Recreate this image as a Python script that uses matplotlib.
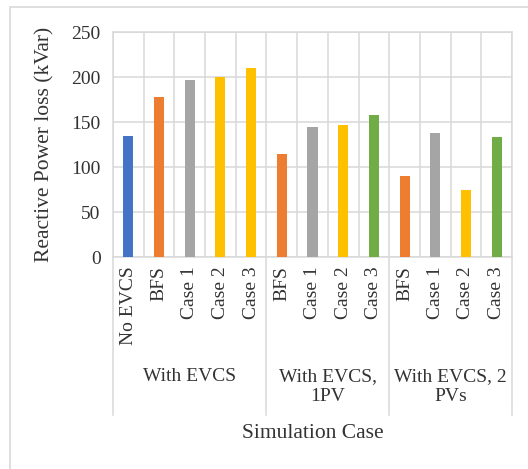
import numpy as np
import matplotlib.pyplot as plt
import matplotlib.transforms as mtransforms
from matplotlib.patches import Rectangle

plt.rcParams['font.family'] = ['Liberation Serif', 'DejaVu Serif']

# data per group
groups = ['With EVCS', 'With EVCS,\n1PV', 'With EVCS, 2\nPVs']
labels_g1 = ['No EVCS', 'BFS', 'Case 1', 'Case 2', 'Case 3']
labels_g2 = ['BFS', 'Case 1', 'Case 2', 'Case 3']
labels_g3 = ['BFS', 'Case 1', 'Case 2', 'Case 3']
values_g1 = [135, 178, 197, 200, 210]
values_g2 = [115, 144, 147, 158]
values_g3 = [90, 138, 75, 133]

blue, orange, grey, yellow, green = '#4472C4', '#ED7D31', '#A5A5A5', '#FFC000', '#70AD47'
colours_g1 = [blue, orange, grey, yellow, yellow]
colours_g2 = [orange, grey, yellow, green]
colours_g3 = [orange, grey, yellow, green]

W, H = 528, 469
fig = plt.figure(figsize=(W / 100, H / 100), dpi=100)

# light frame round the chart
fig.patches.append(Rectangle((10 / W, -0.1), 1.2, 1 - 7 / H + 0.1, transform=fig.transFigure,
                             fill=False, edgecolor='#D9D9D9', linewidth=1.2))

ax = fig.add_axes([113 / W, 1 - 257 / H, (512 - 113) / W, (257 - 32) / H])

labels = labels_g1 + labels_g2 + labels_g3
values = values_g1 + values_g2 + values_g3
colours = colours_g1 + colours_g2 + colours_g3
sizes = [len(labels_g1), len(labels_g2), len(labels_g3)]
x = np.arange(len(labels))

ax.bar(x, values, width=0.33, color=colours, zorder=3)

ax.set_xlim(-0.5, len(labels) - 0.5)
ax.set_ylim(0, 250)
ax.set_yticks(np.arange(0, 251, 50))
ax.tick_params(axis='y', length=0, pad=9, labelsize=14, labelcolor='#333333')
ax.set_xticks([])
ax.grid(axis='y', color='#D9D9D9', linewidth=1.1, zorder=0)
for b in np.arange(-0.5, len(labels), 1.0):
    ax.axvline(b, color='#D9D9D9', linewidth=1.1, zorder=0)
for s in ax.spines.values():
    s.set_color('#D9D9D9')
    s.set_linewidth(1.1)

trans = mtransforms.blended_transform_factory(ax.transData, ax.transAxes)
px = 1 / (257 - 32)

# rotated category names under each bar
for xi, lab in zip(x, labels):
    ax.text(xi, -9 * px, lab, rotation=90, ha='center', va='top', fontsize=14,
            color='#333333', transform=trans)

# group separators and group names
edges = np.concatenate([[0], np.cumsum(sizes)]) - 0.5
for e in edges:
    ax.plot([e, e], [0, -158 * px], color='#D9D9D9', linewidth=1.1,
            transform=trans, clip_on=False)
for i, g in enumerate(groups):
    mid = (edges[i] + edges[i + 1]) / 2
    ax.text(mid, -111 * px, g, ha='center', va='top', fontsize=14, color='#333333',
            linespacing=1.2, transform=trans)

ax.set_ylabel('Reactive Power loss (kVar)', fontsize=15.5, color='#333333', labelpad=12)
fig.text((113 + 512) / 2 / W, 1 - 433 / H, 'Simulation Case', ha='center', va='center',
         fontsize=15.5, color='#333333')

plt.savefig('out.png', dpi=100)
